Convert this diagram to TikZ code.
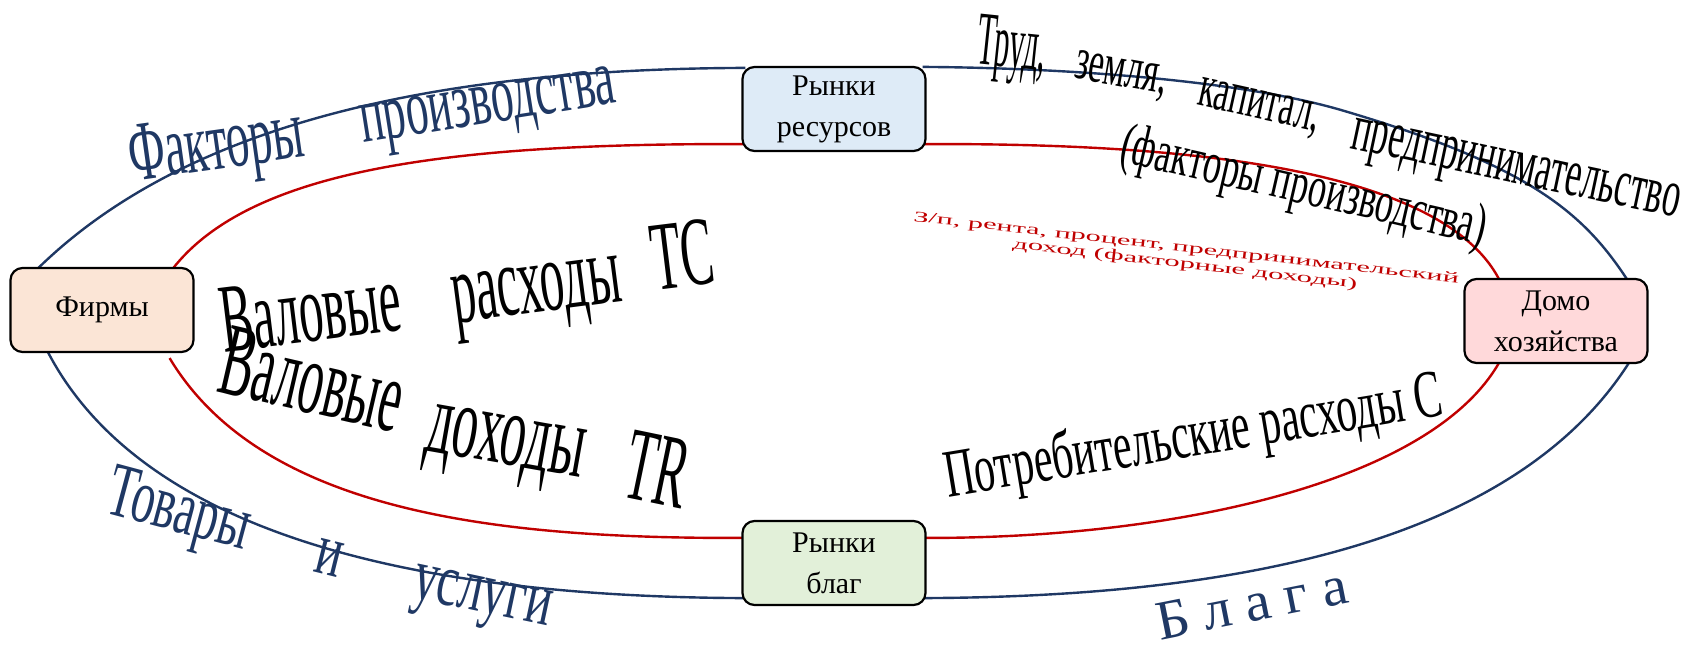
\documentclass[tikz,border=0pt]{standalone}
\usepackage{fontspec}
\setmainfont{Liberation Serif}
\usepackage{graphicx}
\usetikzlibrary{calc}
\pgfdeclarelayer{bg}
\pgfsetlayers{bg,main}
\definecolor{navy}{HTML}{1F3864}
\definecolor{darkred}{HTML}{C00000}
\definecolor{firmfill}{HTML}{FBE5D6}
\definecolor{resfill}{HTML}{DEEBF7}
\definecolor{hhfill}{HTML}{FFD9DA}
\definecolor{goodsfill}{HTML}{E2F0D9}
\newcommand\wa[3]{\resizebox{#2pt}{\height}{\fontsize{#1pt}{#1pt}\selectfont #3}}
\begin{document}
\begin{tikzpicture}[x=1pt,y=-1pt,
  box/.style={draw=black, line width=2.2pt, rounded corners=12pt, minimum width=183pt, minimum height=84pt, inner sep=0pt, align=center, font=\fontsize{30}{41}\selectfont},
  blueflow/.style={draw=navy, line width=2.4pt},
  redflow/.style={draw=darkred, line width=2.4pt},
  wordart/.style={anchor=base west, inner sep=0pt, outer sep=0pt},
]
\useasboundingbox (0,0) rectangle (1694,650);

\node[box, fill=firmfill] (firm) at (102,310) {Фирмы};
\node[box, fill=resfill] (res) at (834,109) {Рынки\\ресурсов};
\node[box, fill=hhfill] (hh) at (1556,321) {Домо\\хозяйства};
\node[box, fill=goodsfill] (goods) at (834,563) {Рынки\\благ};

\begin{pgfonlayer}{bg}
\coordinate (b1s) at ($(firm.north west)+(28,2)$);
\coordinate (b1e) at ($(res.north west)+(4,2)$);
\coordinate (b2s) at ($(res.north east)+(-4,1)$);
\coordinate (b2e) at ($(hh.north west)+(164,2)$);
\coordinate (b3s) at ($(hh.south west)+(166,-2)$);
\coordinate (b3e) at ($(goods.south east)+(-4,-8)$);
\coordinate (b4s) at ($(goods.south west)+(4,-8)$);
\coordinate (b4e) at ($(firm.south west)+(38,-2)$);
\coordinate (r1s) at ($(firm.north east)+(-22,2)$);
\coordinate (r1e) at ($(res.south west)+(4,-8)$);
\coordinate (r2s) at ($(res.south east)+(-4,-8)$);
\coordinate (r2e) at ($(hh.north west)+(36,2)$);
\coordinate (r3s) at ($(hh.south west)+(36,-2)$);
\coordinate (r3e) at ($(goods.north east)+(-4,18)$);
\coordinate (r4s) at ($(goods.north west)+(4,18)$);
\coordinate (r4e) at ($(firm.south east)+(-25,5)$);

\draw[blueflow] (b1s) .. controls (180,129) and (420,69) .. (b1e);
\draw[blueflow] (b2s) .. controls (1080,68) and (1245,82) .. (1341,110)
                      .. controls (1528,165) and (1583,212) .. (b2e);
\draw[blueflow] (b3s) .. controls (1507,555) and (1200,597) .. (b3e);
\draw[blueflow] (b4s) .. controls (400,597) and (139,528) .. (b4e);

\draw[redflow] (r1s) .. controls (250,170) and (446,143) .. (r1e);
\draw[redflow] (r2s) .. controls (1172,143) and (1440,165) .. (r2e);
\draw[redflow] (r3s) .. controls (1431,483) and (1172,539) .. (r3e);
\draw[redflow] (r4s) .. controls (496,539) and (262,512) .. (r4e);
\end{pgfonlayer}

\node[wordart, text=navy, rotate=8] (t1) at (132,181) {\wa{85}{176}{Факторы}};
\node[wordart, text=navy, rotate=9] (t2) at (363,143) {\wa{80}{258}{производства}};
\node[wordart, rotate=-6] (t3) at (975,64) {\wa{76}{70}{Труд,}};
\node[wordart, rotate=-10] (t4) at (1073,78) {\wa{60}{93}{земля,}};
\node[wordart, rotate=-12.5] (t5) at (1196,105) {\wa{61}{124}{капитал,}};
\node[wordart, rotate=-12] (t6) at (1349,148) {\wa{68}{335}{предпринимательство}};
\node[wordart, rotate=-13] (t7) at (1118,161) {\wa{59}{374}{(факторы производства)}};
\node[wordart, text=darkred, rotate=-6.5] (t8) at (913,221) {\wa{15}{549}{З/п, рента, процент, предпринимательский}};
\node[wordart, text=darkred, rotate=-6.7] (t9) at (1012,248) {\wa{15}{347}{доход (факторные доходы)}};
\node[wordart, rotate=7] (t10) at (224,352) {\wa{98}{181}{Валовые}};
\node[wordart, rotate=7.5] (t11) at (455,323) {\wa{100}{170}{расходы}};
\node[wordart, rotate=7] (t12) at (655,290) {\wa{98}{63}{TC}};
\node[wordart, rotate=-13] (t13) at (215,391) {\wa{104}{185}{Валовые}};
\node[wordart, rotate=-10] (t14) at (423,450) {\wa{104}{160}{доходы}};
\node[wordart, rotate=-11.7] (t15) at (620,496) {\wa{104}{62}{TR}};
\node[wordart, rotate=9.4] (t16) at (948,497) {\wa{68}{504}{Потребительские расходы С}};
\node[wordart, text=navy, rotate=-15] (t17) at (103,512) {\wa{77}{146}{Товары}};
\node[wordart, text=navy, rotate=-14] (t18) at (312,571) {\wa{75}{26}{и}};
\node[wordart, text=navy, rotate=-12] (t19) at (410,597) {\wa{75}{141}{услуги}};
\node[wordart, text=navy, rotate=11.3] (t20) at (1160,640) {\wa{56}{194}{Б л а г а}};
\end{tikzpicture}
\end{document}
